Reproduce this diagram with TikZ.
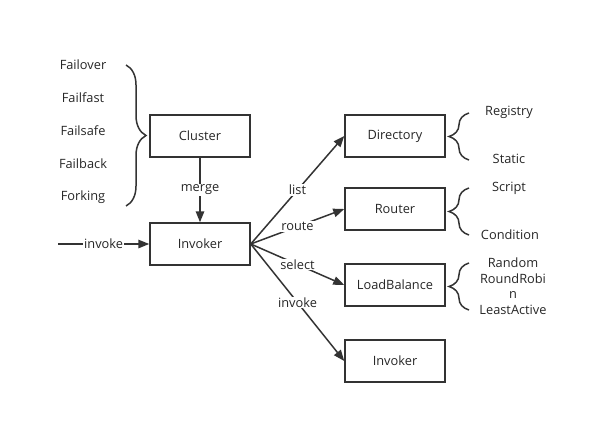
\documentclass[tikz,border=0pt]{standalone}
\usepackage{fontspec}
\setmainfont{Open Sans}
\usepackage{tikz}
\usetikzlibrary{arrows.meta}
\usetikzlibrary{decorations.pathreplacing}

\begin{document}
\begin{tikzpicture}[x=1pt,y=-1pt,font=\fontsize{12.8}{15.5}\selectfont,
	line width=1.5pt, draw=black!80, text=black!85,
	box/.style={draw=black!80, line width=1.5pt, minimum width=100pt, minimum height=42pt, inner sep=0pt},
	arr/.style={-{Triangle[length=11pt,width=8.5pt]}, draw=black!80},
	lbl/.style={fill=white, inner sep=1pt},
	brc/.style={decorate, decoration={brace, amplitude=20pt}, draw=black!80}]
	\useasboundingbox (0,0) rectangle (613,444);

	% boxes
	\node[box] (cluster) at (200,136) {Cluster};
	\node[box] (invoker) at (200,244) {Invoker};
	\node[box] (directory) at (395,136) {Directory};
	\node[box] (router) at (395,209) {Router};
	\node[box] (loadbalance) at (395,285) {LoadBalance};
	\node[box] (invoker2) at (395,361) {Invoker};

	% cluster kinds
	\node (failover) at (83,65) {Failover};
	\node (failfast) at (83,98) {Failfast};
	\node (failsafe) at (83,131) {Failsafe};
	\node (failback) at (83,164) {Failback};
	\node (forking) at (83,197) {Forking};
	\draw[brc] (126,65) -- (126,206);

	% right side
	\node (registry) at (509,112) {Registry};
	\node (static) at (509,159) {Static};
	\draw[brc] (469,160) -- (469,113);
	\node (script) at (509,188) {Script};
	\node (condition) at (510,235) {Condition};
	\draw[brc] (469,235) -- (469,188);
	\node[align=center] (lbkinds) at (513,286) {Random\\RoundRobi\\n\\LeastActive};
	\draw[brc] (469,310) -- (469,263);

	% connectors
	\coordinate (start) at (58,244);
	\draw[arr] (cluster) -- node[lbl] {merge} (invoker);
	\draw[arr] (start) -- node[lbl] {invoke} (invoker);
	\draw[arr] (invoker.east) -- node[lbl] {list} (directory.west);
	\draw[arr] (invoker.east) -- node[lbl] {route} (router.west);
	\draw[arr] (invoker.east) -- node[lbl] {select} (loadbalance.west);
	\draw[arr] (invoker.east) -- node[lbl] {invoke} (invoker2.west);
\end{tikzpicture}
\end{document}
